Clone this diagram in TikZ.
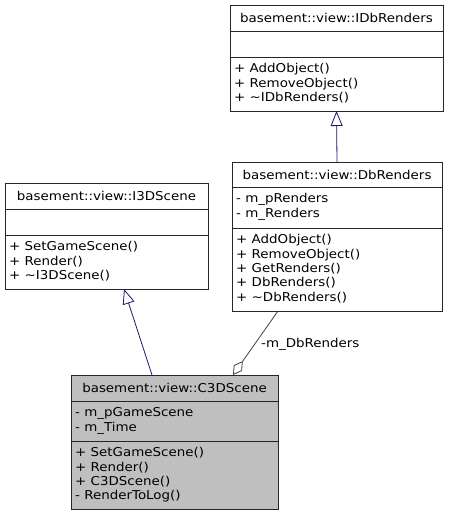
\documentclass[tikz,border=0pt]{standalone}
\usepackage{fontspec}
\setmainfont{DejaVu Sans}[FakeStretch=1.1]
\usetikzlibrary{arrows.meta,calc}
\tikzset{
  classbox/.style={draw=black!85, line width=0.9pt, anchor=north west, inner sep=0pt, outer sep=0pt},
  divider/.style={draw=black!85, line width=0.9pt},
  txt/.style={anchor=base west, inner sep=0pt, font=\fontsize{12.2}{14}\selectfont},
  ttl/.style={anchor=base, inner sep=0pt, font=\fontsize{12.2}{14}\selectfont},
  gen/.style={draw=midnight, line width=0.8pt, -{Triangle[open, length=15pt, width=12pt, fill=white]}},
  agg/.style={draw=aggcol, line width=0.8pt, -{Diamond[open, length=17pt, width=10pt, fill=white]}}
}
\definecolor{midnight}{HTML}{191970}
\definecolor{aggcol}{HTML}{404040}
\definecolor{boxgray}{HTML}{BFBFBF}
\begin{document}
\begin{tikzpicture}[x=1pt,y=-1pt]
\useasboundingbox (0,0) rectangle (450,516);
% IDbRenders
\node[classbox, fill=white, minimum width=213pt, minimum height=106pt] (idb) at (230,5) {};
\draw[divider] (230,31) -- (443,31);
\draw[divider] (230,57) -- (443,57);
\node[ttl] (idbt) at (336.5,22.5) {basement::view::IDbRenders};
\node[txt] (idb1) at (234,72.8) {+ AddObject()};
\node[txt] (idb2) at (234,87.1) {+ RemoveObject()};
\node[txt] (idb3) at (234,101.4) {+ \textasciitilde IDbRenders()};
% DbRenders
\node[classbox, fill=white, minimum width=210pt, minimum height=149pt] (db) at (232,162) {};
\draw[divider] (232,187) -- (442,187);
\draw[divider] (232,228) -- (442,228);
\node[ttl] (dbt) at (337,179) {basement::view::DbRenders};
\node[txt] (dba1) at (236,202.8) {- m\_pRenders};
\node[txt] (dba2) at (236,217.1) {- m\_Renders};
\node[txt] (dbo1) at (236,243.8) {+ AddObject()};
\node[txt] (dbo2) at (236,258.1) {+ RemoveObject()};
\node[txt] (dbo3) at (236,272.4) {+ GetRenders()};
\node[txt] (dbo4) at (236,286.7) {+ DbRenders()};
\node[txt] (dbo5) at (236,301.0) {+ \textasciitilde DbRenders()};
% I3DScene
\node[classbox, fill=white, minimum width=203pt, minimum height=106pt] (i3d) at (5,183) {};
\draw[divider] (5,209) -- (208,209);
\draw[divider] (5,235) -- (208,235);
\node[ttl] (i3dt) at (106.5,200.5) {basement::view::I3DScene};
\node[txt] (i3d1) at (9,250.8) {+ SetGameScene()};
\node[txt] (i3d2) at (9,265.1) {+ Render()};
\node[txt] (i3d3) at (9,279.4) {+ \textasciitilde I3DScene()};
% C3DScene
\node[classbox, fill=boxgray, minimum width=207pt, minimum height=134pt] (c3d) at (71,375) {};
\draw[divider] (71,401) -- (278,401);
\draw[divider] (71,441) -- (278,441);
\node[ttl] (c3dt) at (174.5,392.5) {basement::view::C3DScene};
\node[txt] (c3da1) at (75,416.8) {- m\_pGameScene};
\node[txt] (c3da2) at (75,431.1) {- m\_Time};
\node[txt] (c3do1) at (75,456.8) {+ SetGameScene()};
\node[txt] (c3do2) at (75,471.1) {+ Render()};
\node[txt] (c3do3) at (75,485.4) {+ C3DScene()};
\node[txt] (c3do4) at (75,499.7) {- RenderToLog()};
% connectors
\draw[gen] ([xshift=81pt]c3d.north west) -- ([xshift=119pt]i3d.south west);
\draw[gen] (db.north) -- (idb.south);
\draw[agg] ([xshift=46pt]db.south west) -- ([xshift=162pt]c3d.north west);
\node[txt] (agglbl) at (261,347) {-m\_DbRenders};
\end{tikzpicture}
\end{document}
